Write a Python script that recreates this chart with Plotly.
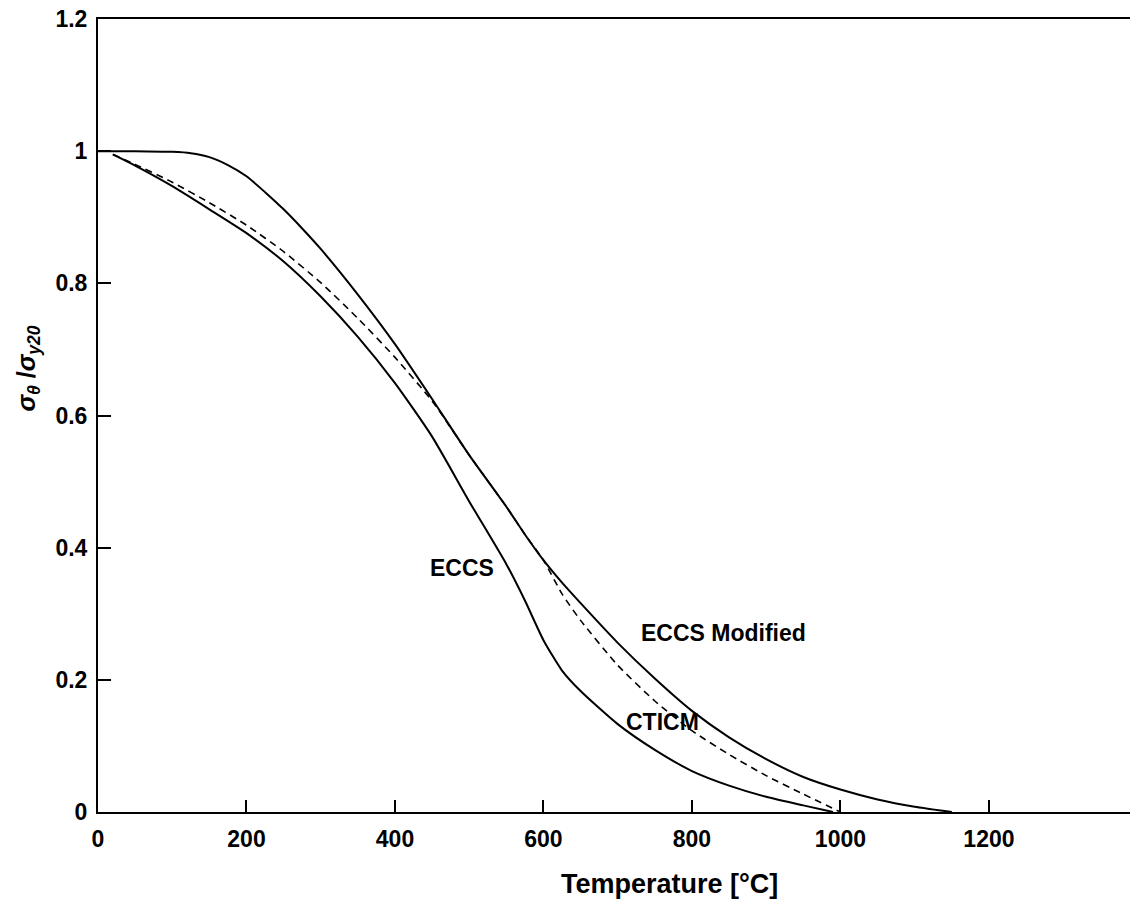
import plotly.graph_objects as go

# Yield strength ratio vs temperature for three steel models
temp_eccs = [20, 50, 100, 150, 200, 250, 300, 350, 400, 450, 500, 550, 575, 600, 625, 650, 700, 750, 800, 850, 900, 950, 990]
ratio_eccs = [0.995, 0.978, 0.947, 0.912, 0.876, 0.833, 0.780, 0.719, 0.649, 0.568, 0.470, 0.375, 0.320, 0.260, 0.214, 0.183, 0.133, 0.094, 0.062, 0.040, 0.023, 0.010, 0.0]

temp_cticm = [20, 50, 100, 150, 200, 250, 300, 350, 400, 450, 500, 550, 575, 600, 625, 650, 700, 750, 800, 850, 900, 950, 1000]
ratio_cticm = [0.995, 0.980, 0.953, 0.922, 0.888, 0.848, 0.801, 0.747, 0.688, 0.622, 0.540, 0.462, 0.420, 0.381, 0.330, 0.290, 0.222, 0.168, 0.123, 0.087, 0.055, 0.027, 0.0]

temp_mod = [0, 50, 100, 125, 150, 175, 200, 225, 250, 275, 300, 350, 400, 450, 500, 550, 575, 600, 625, 650, 700, 750, 800, 850, 900, 950, 1000, 1050, 1100, 1150]
ratio_mod = [1.0, 1.0, 0.999, 0.997, 0.991, 0.979, 0.962, 0.938, 0.912, 0.883, 0.852, 0.783, 0.708, 0.625, 0.540, 0.462, 0.420, 0.381, 0.347, 0.316, 0.256, 0.202, 0.153, 0.113, 0.080, 0.053, 0.034, 0.019, 0.008, 0.0]

x_ticks = [0, 200, 400, 600, 800, 1000, 1200]
y_ticks = [0, 0.2, 0.4, 0.6, 0.8, 1.0, 1.2]
y_tick_text = ["0", "0.2", "0.4", "0.6", "0.8", "1", "1.2"]

# Curve labels: text, x, y
curve_labels = [("ECCS", 490, 0.369), ("ECCS Modified", 843, 0.271), ("CTICM", 760, 0.136)]

FONT = "Liberation Sans, Arial, sans-serif"
INK = "#000000"

fig = go.Figure()
fig.add_trace(go.Scatter(x=temp_mod, y=ratio_mod, mode="lines",
                         line=dict(color=INK, width=2, shape="spline", smoothing=0.6)))
fig.add_trace(go.Scatter(x=temp_eccs, y=ratio_eccs, mode="lines",
                         line=dict(color=INK, width=2, shape="spline", smoothing=0.6)))
fig.add_trace(go.Scatter(x=temp_cticm, y=ratio_cticm, mode="lines",
                         line=dict(color=INK, width=1.6, dash="7px,5px", shape="spline", smoothing=0.6)))

for text, xv, yv in curve_labels:
    fig.add_annotation(x=xv, y=yv, text=text, showarrow=False,
                       xanchor="center", yanchor="middle",
                       font=dict(family=FONT, size=23, color=INK, weight="bold"))

# axis titles
fig.add_annotation(x=770, xref="x", y=-0.091, yref="paper", text="Temperature [°C]",
                   xanchor="center", yanchor="middle",
                   showarrow=False, font=dict(family=FONT, size=27, color=INK, weight="bold"))
fig.add_annotation(x=-0.068, xref="paper", y=0.559, yref="paper", textangle=-90,
                   xanchor="center", yanchor="middle",
                   text="<i>σ<sub>θ</sub></i> /<i>σ<sub>y20</sub></i>", showarrow=False,
                   font=dict(family=FONT, size=25, color=INK, weight="bold"))

fig.update_layout(
    width=1130, height=908,
    margin=dict(l=98, r=0, t=19, b=96),
    paper_bgcolor="white", plot_bgcolor="white",
    showlegend=False,
    font=dict(family=FONT, color=INK),
)
fig.update_xaxes(range=[0, 1390], tickvals=x_ticks, ticks="inside", ticklen=12, tickwidth=1.6,
                 tickcolor=INK, showline=True, linecolor=INK, linewidth=2, mirror=True,
                 showgrid=False, zeroline=False, ticklabelstandoff=5,
                 tickfont=dict(family=FONT, size=23, color=INK, weight="bold"))
fig.update_yaxes(range=[0, 1.2], tickvals=y_ticks, ticktext=y_tick_text, ticks="inside",
                 ticklen=13, tickwidth=1.6, tickcolor=INK, showline=True, linecolor=INK,
                 linewidth=2, showgrid=False, zeroline=False, ticklabelstandoff=4,
                 tickfont=dict(family=FONT, size=23, color=INK, weight="bold"))

fig.write_html("out.html")
